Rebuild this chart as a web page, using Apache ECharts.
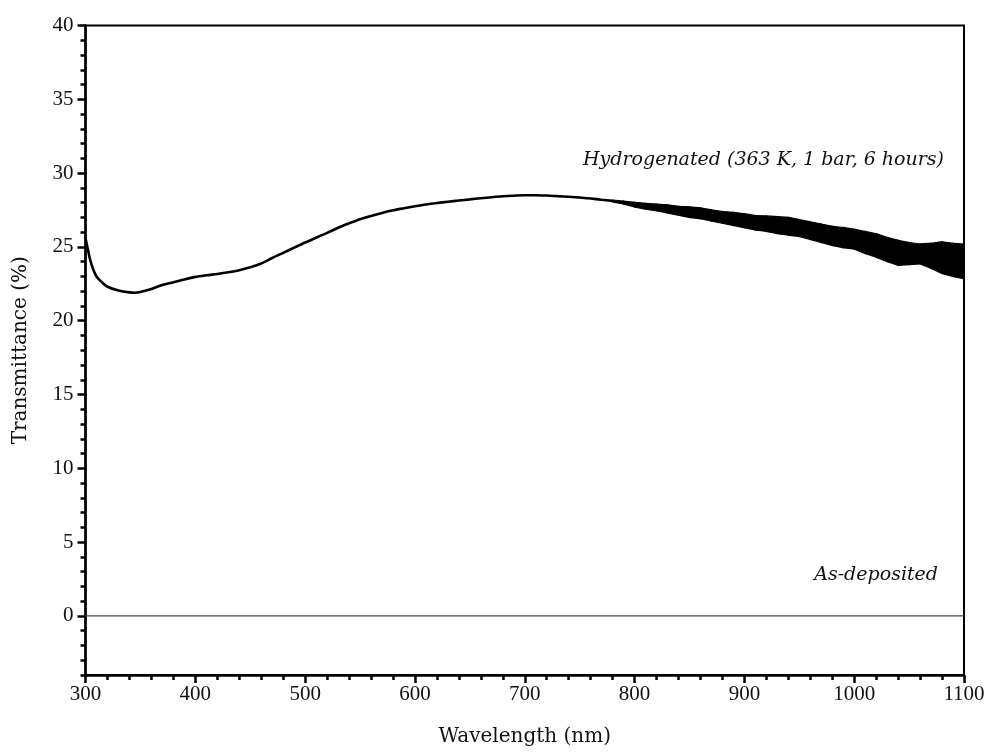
<!DOCTYPE html>
<html>
<head>
<meta charset="utf-8">
<script src="https://cdn.jsdelivr.net/npm/echarts@6/dist/echarts.min.js"></script>
<style>html,body{margin:0;padding:0;background:#fff}#c{width:987px;height:753px}</style>
</head>
<body>
<div id="c"></div>
<script>
// Hydrogenated film: smooth part of the spectrum (wavelength nm, transmittance %)
const hydroWavelength = [300,302,304,306,308,310,315,320,330,340,345,350,360,370,380,390,400,410,420,430,440,450,460,470,480,490,500,510,520,530,540,550,560,570,580,590,600,610,620,630,640,650,660,670,680,690,700,710,720,730,740,750,760,770,780];
const hydroValue = [25.6,24.9,24.2,23.7,23.3,23.0,22.6,22.3,22.05,21.92,21.9,21.95,22.15,22.42,22.6,22.8,22.97,23.08,23.17,23.28,23.42,23.62,23.88,24.25,24.6,24.95,25.3,25.62,25.95,26.3,26.6,26.88,27.1,27.3,27.48,27.62,27.75,27.87,27.97,28.06,28.14,28.22,28.3,28.37,28.43,28.47,28.5,28.5,28.48,28.44,28.4,28.35,28.28,28.2,28.12];
// Noisy part: envelope of the noise band
const bandWavelength = [780,790,800,810,820,830,840,850,860,870,880,890,900,910,920,930,940,950,960,970,980,990,1000,1010,1020,1030,1040,1050,1060,1070,1080,1090,1100];
const bandUpper = [28.18,28.1,28.02,27.95,27.9,27.85,27.75,27.72,27.65,27.52,27.4,27.35,27.25,27.12,27.1,27.05,27.0,26.85,26.7,26.55,26.4,26.32,26.2,26.05,25.9,25.65,25.45,25.3,25.2,25.25,25.35,25.25,25.2];
const bandLower = [28.05,27.9,27.7,27.55,27.45,27.3,27.15,27.0,26.9,26.75,26.6,26.45,26.3,26.15,26.05,25.9,25.8,25.7,25.5,25.3,25.1,24.95,24.85,24.55,24.3,24.0,23.75,23.8,23.85,23.55,23.2,23.0,22.85];
// As-deposited film
const asDepWavelength = [300,1100];
const asDepValue = [0,0];
// Ticks
const yMajorTicks = [0,5,10,15,20,25,30,35,40];
const xMin = 300, xMax = 1100, yMin = -4, yMax = 40;
const labelHydro = 'Hydrogenated (363 K, 1 bar, 6 hours)';
const labelAsDep = 'As-deposited';

const pair = (xs, ys) => xs.map((x, i) => [x, ys[i]]);
const bandData = bandWavelength.map((x, i) => [x, bandUpper[i], bandLower[i]]);

const tickFont = { fontFamily: 'Liberation Serif', fontSize: 21, color: '#111', formatter: v => String(v) };
const chart = echarts.init(document.getElementById('c'));
chart.setOption({
  animation: false,
  grid: { left: 85.5, right: 23, top: 25.5, bottom: 78, outerBoundsMode: 'none', containLabel: false,
          show: true, borderColor: '#000', borderWidth: 2, backgroundColor: 'transparent' },
  xAxis: {
    type: 'value', min: xMin, max: xMax, interval: 100,
    name: 'Wavelength (nm)', nameLocation: 'middle', nameGap: 52,
    nameTextStyle: { fontFamily: 'DejaVu Serif', fontSize: 20, color: '#111' },
    axisLine: { show: true, onZero: false, lineStyle: { color: '#000', width: 2.5 } },
    axisTick: { show: true, inside: false, length: 8, lineStyle: { color: '#000', width: 2.5 } },
    minorTick: { show: true, splitNumber: 5, length: 5, lineStyle: { color: '#000', width: 2.5 } },
    axisLabel: Object.assign({ margin: 9 }, tickFont),
    splitLine: { show: false }
  },
  yAxis: [{
    type: 'value', min: yMin, max: yMax,
    name: 'Transmittance (%)', nameLocation: 'middle', nameGap: 55,
    nameTextStyle: { fontFamily: 'DejaVu Serif', fontSize: 20, color: '#111' },
    axisLine: { show: true, onZero: false, lineStyle: { color: '#000', width: 2.5 } },
    axisTick: { show: true, inside: false, length: 8, customValues: yMajorTicks, lineStyle: { color: '#000', width: 2.5 } },
    axisLabel: Object.assign({ margin: 12, customValues: yMajorTicks }, tickFont),
    splitLine: { show: false }
  }, {
    type: 'value', min: yMin, max: yMax, interval: 1, position: 'left',
    axisLine: { show: false, onZero: false },
    axisTick: { show: true, inside: false, length: 5, lineStyle: { color: '#000', width: 2.5 } },
    axisLabel: { show: false },
    splitLine: { show: false }
  }],
  series: [
    { type: 'line', data: pair(asDepWavelength, asDepValue), showSymbol: false, symbol: 'none',
      lineStyle: { color: '#444', width: 1.2 }, z: 2 },
    { type: 'line', data: pair(hydroWavelength, hydroValue), showSymbol: false, symbol: 'none', smooth: 0.3,
      lineStyle: { color: '#000', width: 2.6 }, z: 3 },
    { type: 'custom', data: bandData, z: 3,
      renderItem: function (params, api) {
        const i = params.dataIndex;
        if (i >= bandData.length - 1) return null;
        const a = bandData[i], b = bandData[i + 1];
        const pts = [api.coord([a[0], a[1]]), api.coord([b[0], b[1]]), api.coord([b[0], b[2]]), api.coord([a[0], a[2]])];
        return { type: 'polygon', shape: { points: pts }, style: { fill: '#000', stroke: '#000', lineWidth: 1.2 } };
      }
    }
  ],
  graphic: [
    { type: 'text', right: 43, top: 151, style: { text: labelHydro, font: 'italic 19px "DejaVu Serif"', fill: '#111' } },
    { type: 'text', right: 49, top: 566, style: { text: labelAsDep, font: 'italic 19px "DejaVu Serif"', fill: '#111' } }
  ]
});
</script>
</body>
</html>
